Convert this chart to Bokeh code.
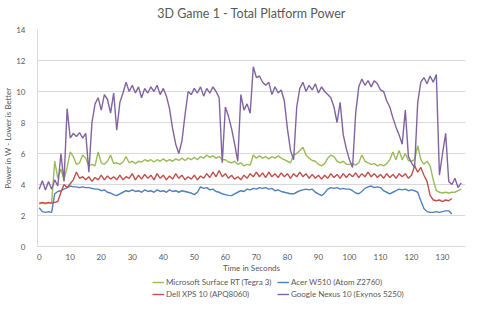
from bokeh.plotting import figure
from bokeh.models import Legend, LegendItem, FixedTicker, Range1d, Label
from bokeh.layouts import column
from bokeh.embed import file_html
from bokeh.resources import INLINE

seconds = list(range(137))

surface_rt = [2.75, 2.8, 2.75, 2.8, 2.8, 5.5, 4.4, 5.0, 4.3, 5.1,
              6.1, 5.8, 5.3, 5.4, 5.9, 5.7, 5.2, 5.3, 5.2, 6.1,
              5.4, 5.3, 5.5, 5.9, 5.35, 5.4, 5.3, 5.45, 5.8, 5.4,
              5.5, 5.35, 5.5, 5.45, 5.6, 5.5, 5.6, 5.45, 5.6, 5.5,
              5.65, 5.5, 5.6, 5.5, 5.65, 5.55, 5.7, 5.55, 5.7, 5.6,
              5.75, 5.6, 5.8, 5.7, 5.9, 5.75, 5.85, 5.7, 5.8, 5.6,
              5.6, 5.45, 5.4, 5.5, 5.3, 5.4, 5.2, 5.3, 5.25, 5.9,
              5.7, 5.85, 5.7, 5.8, 5.65, 5.8, 5.7, 5.85, 5.7, 5.6,
              5.5, 5.4, 5.9, 6.0, 6.2, 6.4, 5.9, 5.7, 5.55, 5.5,
              5.3, 5.2, 5.35, 5.7, 5.9, 5.8, 5.5, 5.4, 5.5, 5.3,
              5.3, 5.35, 5.25, 5.4, 5.9, 5.5, 5.4, 5.3, 5.35, 5.2,
              5.3, 5.2, 5.35, 5.6, 6.1, 5.6, 6.2, 5.6, 6.0, 5.55,
              5.5, 5.6, 6.5, 5.6, 5.3, 5.5, 5.2, 4.3, 3.6, 3.5,
              3.45, 3.5, 3.45, 3.5, 3.5, 3.6, 3.7]

acer_w510 = [2.5, 2.25, 2.2, 2.25, 2.2, 3.4, 3.55, 3.6, 3.7, 3.8,
             3.9, 3.85, 3.85, 3.8, 3.85, 3.8, 3.8, 3.75, 3.7, 3.7,
             3.6, 3.65, 3.5, 3.45, 3.35, 3.28, 3.4, 3.5, 3.6, 3.55,
             3.65, 3.55, 3.6, 3.5, 3.65, 3.55, 3.6, 3.5, 3.65, 3.55,
             3.6, 3.5, 3.65, 3.55, 3.6, 3.5, 3.6, 3.55, 3.5, 3.45,
             3.35, 3.5, 3.85, 3.75, 3.8, 3.65, 3.7, 3.55, 3.5, 3.4,
             3.35, 3.3, 3.28, 3.4, 3.5, 3.6, 3.55, 3.7, 3.65, 3.75,
             3.7, 3.8, 3.75, 3.8, 3.7, 3.75, 3.6, 3.65, 3.55, 3.5,
             3.45, 3.4, 3.4, 3.5, 3.6, 3.65, 3.7, 3.65, 3.7, 3.5,
             3.4, 3.28, 3.45, 3.7, 3.8, 3.75, 3.8, 3.7, 3.75, 3.7,
             3.7, 3.6, 3.45, 3.4, 3.55, 3.75, 3.85, 3.9, 3.8, 3.85,
             3.8, 3.6, 3.5, 3.4, 3.5, 3.6, 3.7, 3.65, 3.7, 3.6,
             3.65, 3.6, 3.5, 2.95, 2.45, 2.25, 2.2, 2.2, 2.25, 2.2,
             2.25, 2.3, 2.3, 2.1]

dell_xps10 = [2.8, 2.85, 2.8, 2.85, 2.8, 2.85, 2.9, 3.5, 4.0, 3.8,
              4.05, 4.3, 4.8, 4.4, 4.5, 4.3, 4.5, 4.2, 4.45, 4.3,
              4.6, 4.3, 4.55, 4.35, 4.5, 4.3, 4.6, 4.3, 4.5, 4.4,
              4.7, 4.3, 4.6, 4.35, 4.65, 4.4, 4.6, 4.3, 4.7, 4.4,
              4.6, 4.3, 4.55, 4.35, 4.7, 4.4, 4.6, 4.3, 4.5, 4.35,
              4.6, 4.3, 4.55, 4.4, 4.7, 4.45, 4.8, 4.5, 4.9, 4.5,
              4.7, 4.4, 4.6, 4.35, 4.5, 4.3, 4.6, 4.4, 4.7, 4.5,
              4.8, 4.5, 4.75, 4.45, 4.8, 4.5, 4.7, 4.45, 4.75, 4.5,
              4.7, 4.4, 4.7, 4.5, 4.8, 4.5, 4.7, 4.4, 4.65, 4.4,
              4.6, 4.35, 4.6, 4.4, 4.7, 4.45, 4.65, 4.4, 4.7, 4.45,
              4.7, 4.5, 4.75, 4.45, 4.7, 4.5, 4.8, 4.5, 4.7, 4.45,
              4.65, 4.4, 4.7, 4.45, 4.65, 4.4, 4.7, 4.5, 4.7, 4.4,
              4.6, 5.2, 4.8, 5.1, 4.6, 4.2, 3.3, 3.0, 2.95, 3.0,
              2.9, 3.0, 2.95, 3.1]

nexus_10 = [3.7, 4.25, 3.65, 4.2, 3.7, 4.3, 3.9, 6.0, 4.2, 8.9,
            7.0, 7.3, 7.1, 7.35, 7.0, 7.3, 4.8, 8.0, 9.2, 9.6,
            8.8, 9.8, 9.5, 8.6, 9.9, 7.5, 9.3, 9.9, 10.6, 10.0,
            10.4, 9.9, 10.3, 9.6, 10.2, 9.9, 10.3, 10.0, 10.4, 9.8,
            10.2, 9.7, 8.9, 7.6, 6.6, 6.0, 6.8, 8.5, 10.0, 9.8,
            10.2, 9.9, 10.3, 9.7, 10.2, 9.9, 10.3, 10.0, 9.6, 5.4,
            9.0, 8.4, 7.6, 6.6, 5.5, 9.8, 8.8, 9.2, 8.6, 11.6,
            10.9, 11.0, 10.6, 10.4, 10.6, 9.8, 10.3, 9.9, 10.1, 9.4,
            7.6, 6.2, 5.6, 9.0, 10.2, 10.6, 10.0, 10.4, 10.1, 10.5,
            9.9, 10.3, 10.0, 9.8, 9.6, 9.0, 8.0, 9.3, 7.2, 6.3,
            5.6, 5.1, 8.6, 10.3, 10.8, 10.4, 10.7, 10.3, 10.7, 10.5,
            10.1, 10.0, 9.4, 9.0, 8.3, 7.7, 7.2, 6.6, 8.8, 5.8,
            5.4, 5.1, 9.3, 10.6, 10.9, 10.5, 11.0, 10.6, 11.1, 4.6,
            6.0, 7.3, 4.2, 4.0, 4.4, 3.8, 4.1]

chart_title = "3D Game 1 - Total Platform Power"
series_names = ["Microsoft Surface RT (Tegra 3)", "Acer W510 (Atom Z2760)",
                "Dell XPS 10 (APQ8060)", "Google Nexus 10 (Exynos 5250)"]
series_values = [surface_rt, acer_w510, dell_xps10, nexus_10]
series_colors = ["#9BBB59", "#4F81BD", "#C0504D", "#8064A2"]
y_ticks = [0, 2, 4, 6, 8, 10, 12, 14]
x_ticks = [0, 10, 20, 30, 40, 50, 60, 70, 80, 90, 100, 110, 120, 130]

FONT = "Lato"
GREY = "#595959"


def strip(h, xr, yr):
    f = figure(width=480, height=h, output_backend="svg", toolbar_location=None,
               x_range=xr, y_range=yr, min_border=0, min_border_left=0,
               min_border_right=0, min_border_top=0, min_border_bottom=0)
    f.axis.visible = False
    f.grid.visible = False
    f.outline_line_color = None
    return f


# title strip
tf = strip(24, Range1d(0, 480), Range1d(0, 24))
tf.add_layout(Label(x=240, y=11, text=chart_title, text_align="center",
                    text_baseline="middle", text_font=FONT,
                    text_font_size="12.5px", text_color=GREY))

p = figure(width=480, height=252, output_backend="svg", toolbar_location=None,
           x_range=Range1d(-0.55, 137.4), y_range=Range1d(0, 14),
           min_border_left=36, min_border_right=15, min_border_top=5,
           min_border_bottom=30)
p.outline_line_color = None

for name, vals, col in zip(series_names, series_values, series_colors):
    p.line(seconds[:len(vals)], vals, line_color=col, line_width=1.4)

p.xgrid.grid_line_color = None
p.ygrid.grid_line_color = "#D9D9D9"
p.yaxis.ticker = FixedTicker(ticks=y_ticks)
p.xaxis.ticker = FixedTicker(ticks=x_ticks)
for ax in (p.xaxis[0], p.yaxis[0]):
    ax.major_tick_line_color = None
    ax.minor_tick_line_color = None
    ax.major_label_text_font = FONT
    ax.major_label_text_font_size = "8px"
    ax.major_label_text_color = GREY
    ax.axis_label_text_font = FONT
    ax.axis_label_text_font_size = "8px"
    ax.axis_label_text_font_style = "normal"
    ax.axis_label_text_color = GREY
    ax.axis_line_color = "#D9D9D9"
p.xaxis.axis_label = "Time in Seconds"
p.yaxis.axis_label = "Power in W - Lower is Better"
p.xaxis.major_label_standoff = 1
p.xaxis.axis_label_standoff = 0
p.yaxis.major_label_standoff = 6
p.yaxis.axis_label_standoff = 0

# legend strip below the chart (its sample lines hold off-screen points)
lg = strip(38, Range1d(100, 101), Range1d(100, 101))
items = []
for name, vals, col in zip(series_names, series_values, series_colors):
    r = lg.line(x=seconds[:2], y=vals[:2], line_color=col, line_width=1.4)
    items.append(LegendItem(label=name, renderers=[r]))
legend = Legend(items=items, location=(115, 14), orientation="horizontal", ncols=2,
                padding=0, margin=0, spacing=0, glyph_width=12, glyph_height=12,
                label_height=12, label_width=111, label_standoff=2,
                label_text_font=FONT, label_text_font_size="8px",
                label_text_color=GREY, border_line_color=None,
                background_fill_alpha=0)
lg.add_layout(legend, "center")

open("out.html", "w").write(file_html(column(tf, p, lg, spacing=0), INLINE))
